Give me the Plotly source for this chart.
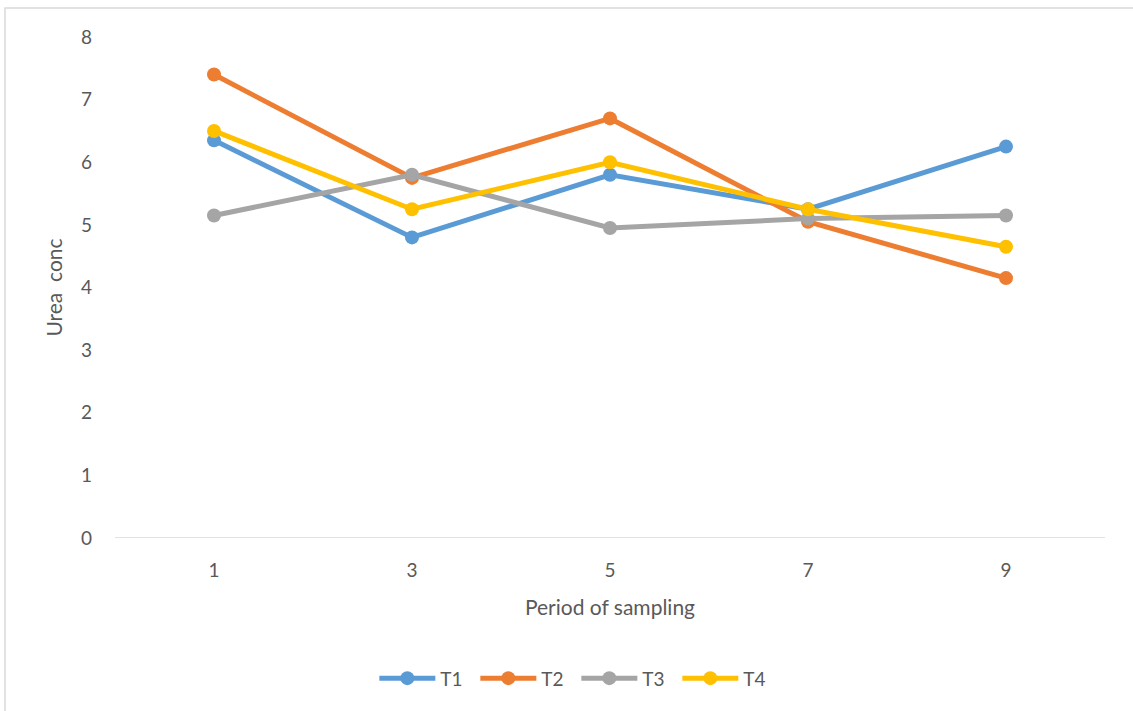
import plotly.graph_objects as go

periods = [1, 3, 5, 7, 9]
t1 = [6.35, 4.8, 5.8, 5.25, 6.25]
t2 = [7.4, 5.75, 6.7, 5.05, 4.15]
t3 = [5.15, 5.8, 4.95, 5.1, 5.15]
t4 = [6.5, 5.25, 6.0, 5.25, 4.65]

series = [("T1", t1, "#5B9BD5"), ("T2", t2, "#ED7D31"), ("T3", t3, "#A5A5A5"), ("T4", t4, "#FFC000")]

fig = go.Figure()
for name, vals, col in series:
    fig.add_trace(go.Scatter(x=periods, y=vals, name=name, mode="lines+markers",
                             line=dict(color=col, width=5),
                             marker=dict(color=col, size=14)))

font = "Lato, 'Open Sans', sans-serif"
fig.update_layout(
    width=1133, height=711,
    margin=dict(l=115, r=28, t=37, b=173),
    paper_bgcolor="white", plot_bgcolor="white",
    font=dict(family=font, color="#595959", size=19),
    showlegend=True,
    legend=dict(orientation="h", x=0.466, xanchor="center", y=-0.28, yanchor="middle",
                font=dict(size=19, color="#595959"), itemwidth=56, entrywidth=30),
    xaxis=dict(range=[0, 10], tickvals=periods, ticktext=[str(p) for p in periods],
               showgrid=False, zeroline=False, showline=False, ticks="",
               ticklabelstandoff=19,
               title=dict(text="Period of sampling", font=dict(size=21), standoff=20)),
    yaxis=dict(range=[0, 8], dtick=1, showgrid=False, zeroline=False, showline=False,
               ticks="", ticklabelstandoff=22,
               title=dict(text="Urea  conc", font=dict(size=21), standoff=12)),
)
fig.add_shape(type="line", xref="x", yref="y", x0=0, x1=10, y0=0, y1=0,
              line=dict(color="#D9D9D9", width=1.5), layer="below")
# chart border
fig.add_shape(type="rect", xref="paper", yref="paper",
              x0=(5 - 115) / 990, x1=(1140 - 115) / 990,
              y0=(538 - 720) / 501, y1=(538 - 8) / 501,
              line=dict(color="#D9D9D9", width=1.5), layer="below")
fig.write_html("out.html")
